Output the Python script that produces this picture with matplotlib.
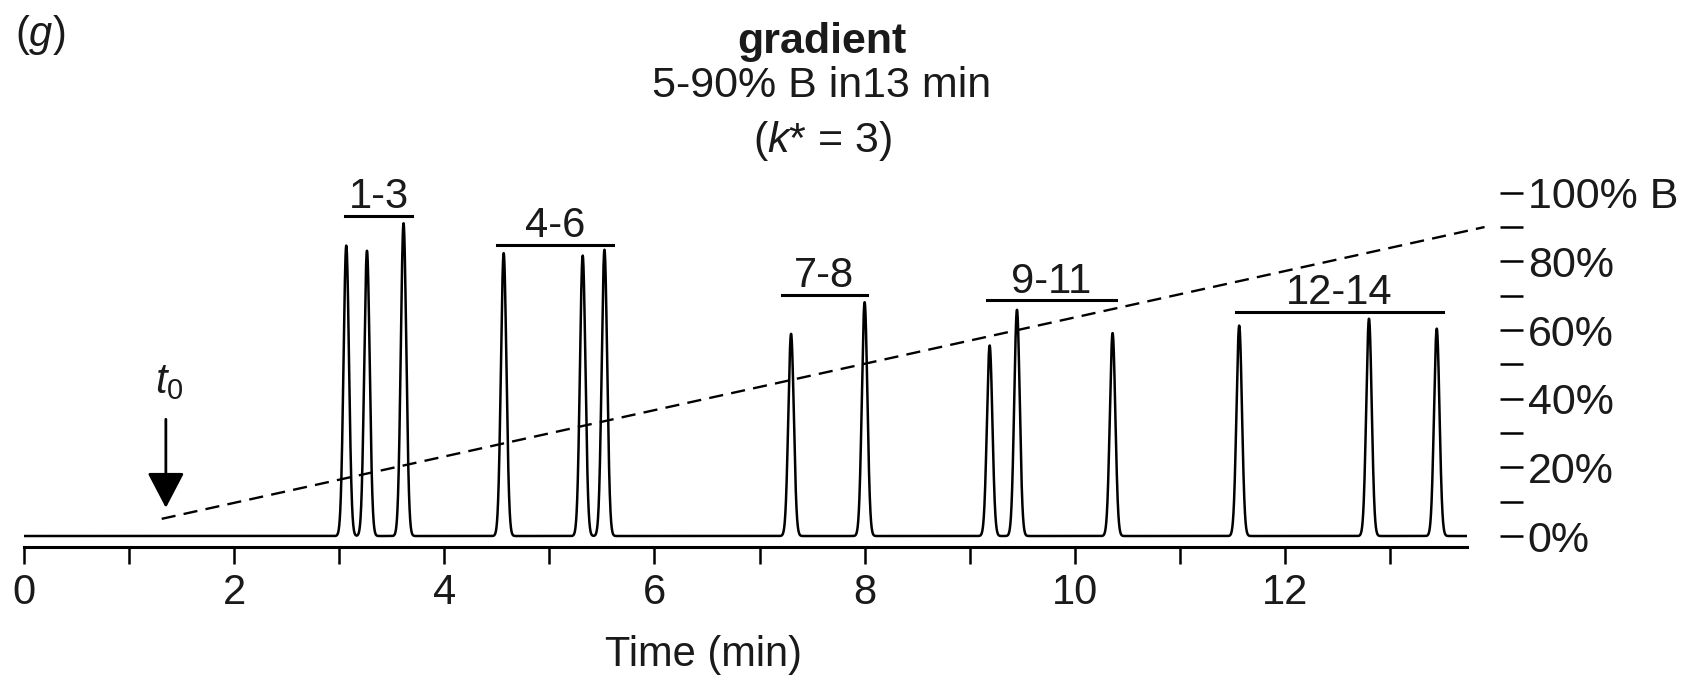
"""
Gradient chromatogram (panel g) with %B program on a right-hand scale.
"""
import numpy as np
import matplotlib
matplotlib.use("Agg")
import matplotlib.pyplot as plt
from matplotlib.ticker import MultipleLocator

plt.rcParams["font.family"] = ["Liberation Sans", "DejaVu Sans"]
plt.rcParams["mathtext.fontset"] = "custom"
plt.rcParams["mathtext.rm"] = "Liberation Sans"
plt.rcParams["mathtext.it"] = "Liberation Sans:italic"
plt.rcParams["mathtext.bf"] = "Liberation Sans:bold"

# peaks (retention time in min, height on the %B scale)
peak_times = [3.067, 3.264, 3.612, 4.565, 5.317, 5.524, 7.30, 8.00,
              9.19, 9.45, 10.36, 11.565, 12.80, 13.445]
peak_heights = [84.6, 83.1, 91.1, 82.4, 81.7, 83.4, 58.9, 68.1,
                55.5, 65.9, 59.1, 61.3, 63.3, 60.4]
peak_sigma = 0.026

# peak group brackets
group_labels = ["1-3", "4-6", "7-8", "9-11", "12-14"]
group_start = [3.057, 4.50, 7.21, 9.16, 11.53]
group_end = [3.69, 5.607, 8.02, 10.39, 13.50]
group_level = [93.1, 84.8, 70.1, 68.6, 65.2]

# gradient program (%B vs time)
grad_time = [1.31, 13.9]
grad_pct = [5, 90]

t0 = 1.35
t_end = 13.73

pct_ticks = [0, 20, 40, 60, 80, 100]
pct_labels = ["0%", "20%", "40%", "60%", "80%", "100% B"]
time_ticks = list(range(0, 14))
time_labels = [str(v) if v % 2 == 0 else "" for v in time_ticks]

FS = 30
INK = "#1a1a1a"

fig = plt.figure(figsize=(16.88, 6.86), dpi=100)
ax = fig.add_axes([0.01422, 0.20262, 0.85468, 0.51648])

t = np.linspace(0, t_end, 12000)
signal = np.zeros_like(t)
for tr, h in zip(peak_times, peak_heights):
    signal += h * np.exp(-0.5 * ((t - tr) / peak_sigma) ** 2)
ax.plot(t, signal, color="black", lw=1.8)

ax.plot(grad_time, grad_pct, color="black", lw=1.7,
        ls=(0, (6, 3.5)), clip_on=False)

for lab, a, b, lev in zip(group_labels, group_start, group_end, group_level):
    ax.plot([a, b], [lev, lev], color="black", lw=2.2, clip_on=False)
    ax.text((a + b) / 2, lev + 2.3, lab, ha="center", va="baseline",
            fontsize=FS, color=INK, clip_on=False)

# t0 marker
ax.annotate("", xy=(t0, 8.2), xytext=(t0, 34),
            arrowprops=dict(arrowstyle="-|>,head_length=22,head_width=11.5",
                            mutation_scale=1, lw=2, color="black",
                            shrinkA=0, shrinkB=0))
ax.text(1.25, 41.7, r"$t_{\mathit{0}}$", ha="left", va="baseline",
        fontsize=FS, color=INK)

ax.set_xlim(0, t_end)
ax.set_ylim(-3.2, 100)
for side in ["left", "top", "right"]:
    ax.spines[side].set_visible(False)
ax.spines["bottom"].set_linewidth(2.2)
ax.set_yticks([])
ax.set_xticks(time_ticks)
ax.set_xticklabels(time_labels)
ax.tick_params(axis="x", direction="out", length=12, width=1.8,
               labelsize=FS, pad=7, colors="black", labelcolor=INK)
ax.set_xlabel("Time (min)", fontsize=FS, color=INK)
ax.xaxis.label.set_va("center")
ax.xaxis.set_label_coords(0.4713, -0.3048)

# right-hand %B scale
ax2 = ax.twinx()
ax2.set_ylim(-3.2, 100)
for side in ["left", "top", "right", "bottom"]:
    ax2.spines[side].set_visible(False)
ax2.spines["right"].set_position(("outward", 24))
ax2.set_yticks(pct_ticks)
ax2.set_yticklabels(pct_labels)
ax2.yaxis.set_minor_locator(MultipleLocator(10))
ax2.tick_params(axis="y", which="both", direction="out", length=16.5,
                width=1.8, colors="black")
ax2.tick_params(axis="y", which="major", labelsize=31, pad=3.5,
                labelcolor=INK)

# titles
fig.text(0.487, 1 - 53.3 / 686, "gradient", ha="center", va="baseline",
         fontsize=31, fontweight="bold", color=INK)
fig.text(0.487, 1 - 96.7 / 686, "5-90% B in13 min", ha="center",
         va="baseline", fontsize=31, color=INK)
fig.text(0.487, 1 - 151.7 / 686, r"($k$* = 3)", ha="center",
         va="baseline", fontsize=31, color=INK)
fig.text(15 / 1688, 1 - 46 / 686, r"($g$)", ha="left", va="baseline",
         fontsize=FS, color=INK)

fig.savefig("out.png", dpi=100)
